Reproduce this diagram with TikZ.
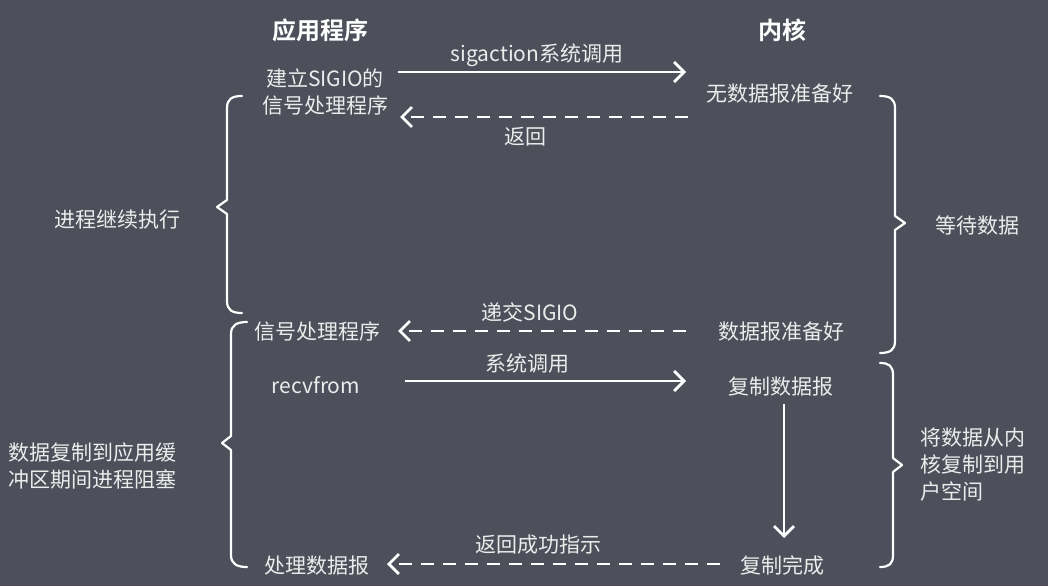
\documentclass[tikz,border=0pt]{standalone}
\usepackage{fontspec}
\setmainfont{Noto Sans CJK SC}[BoldFont={Noto Sans CJK SC Bold}]
\usetikzlibrary{arrows.meta}
\definecolor{bg}{RGB}{77,80,90}
\definecolor{fg}{RGB}{236,236,236}
\begin{document}
\begin{tikzpicture}[x=1pt,y=-1pt,
  lbl/.style={text=fg,inner sep=0pt,font=\fontsize{21}{27}\selectfont},
  head/.style={text=white,inner sep=0pt,font=\fontsize{24}{28}\selectfont\bfseries},
  call/.style={draw=white,line width=2.8pt,-{Straight Barb[length=10pt,width=20pt]}},
  ret/.style={call,dash pattern=on 13pt off 9pt},
  brc/.style={draw=white,line width=2.2pt,line cap=round,line join=round},
]
\fill[bg] (0,0) rectangle (1048,586);
\useasboundingbox (0,0) rectangle (1048,586);

% headings
\node[head] (happ) at (320,30) {应用程序};
\node[head] (hker) at (782,30) {内核};

% application side
\node[lbl,align=center] (a1) at (325,92) {建立SIGIO的\\信号处理程序};
\node[lbl] (a2) at (317,331) {信号处理程序};
\node[lbl] (a3) at (316,385) {recvfrom};
\node[lbl] (a4) at (317,566) {处理数据报};

% kernel side
\node[lbl] (k1) at (780,94) {无数据报准备好};
\node[lbl] (k2) at (781,332) {数据报准备好};
\node[lbl] (k3) at (781,387) {复制数据报};
\node[lbl] (k4) at (782,565) {复制完成};

% arrow labels
\node[lbl] (l1) at (537,55) {sigaction系统调用};
\node[lbl] (l2) at (525,137) {返回};
\node[lbl] (l3) at (530,312) {递交SIGIO};
\node[lbl] (l4) at (527,364) {系统调用};
\node[lbl] (l5) at (538,545) {返回成功指示};

% side labels
\node[lbl] (s1) at (117,220) {进程继续执行};
\node[lbl] (s2) at (977,225) {等待数据};
\node[lbl,anchor=west,align=left] (s3) at (8,466) {数据复制到应用缓\\冲区期间进程阻塞};
\node[lbl,anchor=west,align=left] (s4) at (920,465) {将数据从内\\核复制到用\\户空间};

% arrow end points
\coordinate (c1s) at (398,72);  \coordinate (c1e) at (686,72);
\coordinate (r1s) at (688,117); \coordinate (r1e) at (400,117);
\coordinate (r2s) at (686,331); \coordinate (r2e) at (398,331);
\coordinate (c2s) at (405,381); \coordinate (c2e) at (686,381);
\coordinate (v1s) at (784,404); \coordinate (v1e) at (784,538);
\coordinate (r3s) at (720,564); \coordinate (r3e) at (387,564);

\draw[call] (c1s) -- (c1e);
\draw[ret]  (r1s) -- (r1e);
\draw[ret]  (r2s) -- (r2e);
\draw[call] (c2s) -- (c2e);
\draw[call] (v1s) -- (v1e);
\draw[ret]  (r3s) -- (r3e);

% braces
\draw[brc] (242,96) .. controls (232,96) and (227,99) .. (227,108) -- (227,200) -- (217,207) -- (227,214) -- (227,301) .. controls (227,310) and (232,313) .. (242,313);
\draw[brc] (247,322) .. controls (237,322) and (231,325) .. (231,334) -- (231,436) -- (222,443) -- (231,450) -- (231,555) .. controls (231,564) and (237,567) .. (247,567);
\draw[brc] (880,96) .. controls (890,96) and (895,99) .. (895,108) -- (895,216) -- (905,223) -- (895,230) -- (895,341) .. controls (895,350) and (890,353) .. (880,353);
\draw[brc] (880,363) .. controls (889,363) and (893,366) .. (893,375) -- (893,458) -- (902,465) -- (893,472) -- (893,555) .. controls (893,564) and (889,567) .. (880,567);
\end{tikzpicture}
\end{document}
